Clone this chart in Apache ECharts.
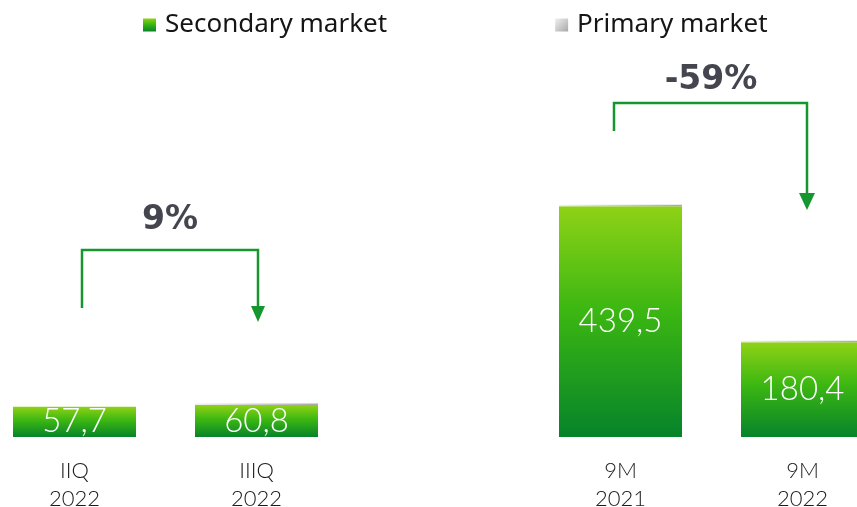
<!DOCTYPE html>
<html>
<head>
<meta charset="utf-8">
<script src="https://cdn.jsdelivr.net/npm/echarts@6/dist/echarts.min.js"></script>
<style>
  html, body { margin: 0; padding: 0; background: #fff; }
  #chart { width: 857px; height: 507px; }
</style>
</head>
<body>
<div id="chart"></div>
<script>
// Periods (the empty slot separates the quarterly pair from the 9-month pair)
const categories = ['IIQ\n2022', 'IIIQ\n2022', '', '9M\n2021', '9M\n2022'];
// Secondary market volume
const secondaryValues = [57.7, 60.8, null, 439.5, 180.4];
// Primary market volume (thin layer on top)
const primaryValues = [0, 3, null, 3, 3];
// Change annotations
const changeLabels = ['9%', '-59%'];

const fmt = v => String(v).replace('.', ',');

const greenFill = new echarts.graphic.LinearGradient(0, 0, 0, 1, [
  { offset: 0, color: '#8fd216' },
  { offset: 0.45, color: '#3cb712' },
  { offset: 1, color: '#06832a' }
]);
const greyFill = new echarts.graphic.LinearGradient(0, 0, 1, 1, [
  { offset: 0, color: '#f0f0f0' },
  { offset: 1, color: '#a8a8a8' }
]);
const arrowColor = '#15962e';
const pctColor = '#45454f';

const chart = echarts.init(document.getElementById('chart'), null, { renderer: 'canvas' });

chart.setOption({
  animation: false,
  backgroundColor: '#ffffff',
  legend: {
    left: 138,
    top: 7,
    itemWidth: 13,
    itemHeight: 13,
    itemGap: 168,
    icon: 'rect',
    textStyle: {
      fontFamily: 'Noto Sans',
      fontSize: 26,
      color: '#151515',
      padding: [0, 0, 0, 4]
    },
    data: ['Secondary market', 'Primary market']
  },
  grid: {
    left: -16.5,
    right: -36.5,
    top: 122,
    bottom: 70,
    outerBoundsMode: 'none',
    containLabel: false
  },
  xAxis: {
    type: 'category',
    data: categories,
    axisLine: { show: false },
    axisTick: { show: false },
    axisLabel: {
      fontFamily: 'Lato',
      fontWeight: 300,
      fontSize: 22,
      lineHeight: 28,
      color: '#1a1a1a',
      margin: 20
    }
  },
  yAxis: {
    type: 'value',
    min: 0,
    max: 600,
    show: false,
    splitLine: { show: false }
  },
  series: [
    {
      name: 'Secondary market',
      type: 'bar',
      stack: 'total',
      barWidth: 123,
      data: secondaryValues,
      itemStyle: { color: greenFill },
      label: {
        show: true,
        position: 'inside',
        formatter: p => fmt(p.value),
        color: '#ffffff',
        fontFamily: 'Lato',
        fontWeight: 300,
        fontSize: 33
      }
    },
    {
      name: 'Primary market',
      type: 'bar',
      stack: 'total',
      barWidth: 123,
      data: primaryValues,
      itemStyle: { color: greyFill }
    }
  ],
  graphic: [
    // 9% change bracket
    {
      type: 'polyline',
      shape: { points: [[82, 308], [82, 250], [258, 250], [258, 308]] },
      style: { stroke: arrowColor, lineWidth: 2.5, fill: null }
    },
    {
      type: 'polygon',
      shape: { points: [[251, 306], [265, 306], [258, 322]] },
      style: { fill: arrowColor }
    },
    {
      type: 'text',
      x: 170, y: 220,
      style: {
        text: changeLabels[0],
        fill: pctColor,
        font: 'bold 33px "DejaVu Sans"',
        align: 'center',
        verticalAlign: 'middle'
      }
    },
    // -59% change bracket
    {
      type: 'polyline',
      shape: { points: [[614, 131], [614, 103], [807, 103], [807, 195]] },
      style: { stroke: arrowColor, lineWidth: 2.5, fill: null }
    },
    {
      type: 'polygon',
      shape: { points: [[799, 193], [815, 193], [807, 210]] },
      style: { fill: arrowColor }
    },
    {
      type: 'text',
      x: 711, y: 80,
      style: {
        text: changeLabels[1],
        fill: pctColor,
        font: 'bold 33px "DejaVu Sans"',
        align: 'center',
        verticalAlign: 'middle'
      }
    }
  ]
});
</script>
</body>
</html>
